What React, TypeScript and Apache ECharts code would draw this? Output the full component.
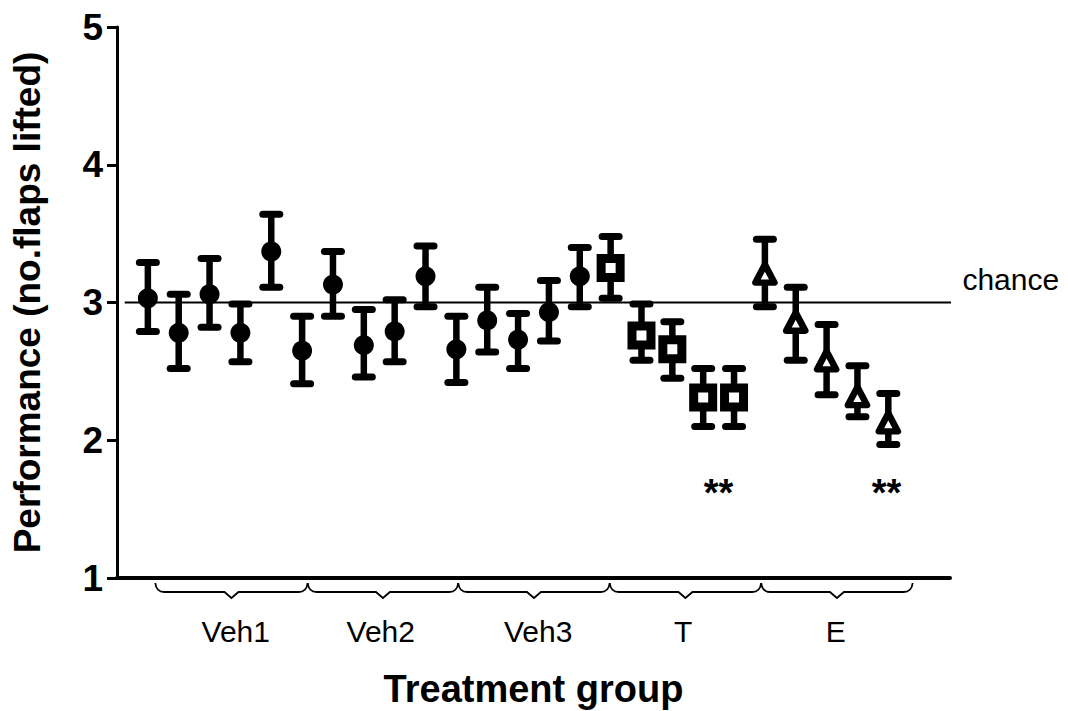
import React, { useEffect, useRef } from 'react';
import * as echarts from 'echarts';

// ---- data ----
const yTicks = [1, 2, 3, 4, 5];
const chanceLevel = 3;

const circleX = [1, 2, 3, 4, 5, 6, 7, 8, 9, 10, 11, 12, 13, 14, 15];
const circleMean = [3.03, 2.78, 3.06, 2.78, 3.37, 2.65, 3.13, 2.69, 2.79, 3.19, 2.66, 2.87, 2.73, 2.93, 3.19];
const circleHigh = [3.29, 3.06, 3.32, 2.99, 3.64, 2.90, 3.37, 2.95, 3.02, 3.41, 2.90, 3.11, 2.92, 3.16, 3.40];
const circleLow = [2.79, 2.52, 2.82, 2.57, 3.11, 2.41, 2.90, 2.46, 2.57, 2.97, 2.42, 2.64, 2.52, 2.72, 2.97];

const squareX = [16, 17, 18, 19, 20];
const squareMean = [3.25, 2.76, 2.66, 2.31, 2.31];
const squareHigh = [3.48, 2.99, 2.86, 2.52, 2.52];
const squareLow = [3.03, 2.58, 2.45, 2.10, 2.10];

const triX = [21, 22, 23, 24, 25];
const triMean = [3.21, 2.86, 2.58, 2.32, 2.13];
const triHigh = [3.46, 3.11, 2.84, 2.54, 2.34];
const triLow = [2.97, 2.58, 2.33, 2.17, 1.97];

const groupLabels = ['Veh1', 'Veh2', 'Veh3', 'T', 'E'];
const groupLabelX = [3.85, 8.55, 13.65, 18.35, 23.3];
const groupLabelY = 0.61;
const braceBounds = [1.24, 6.18, 11.06, 15.97, 20.88, 25.79];

const sigX = [19.5, 24.94];
const sigY = [1.62, 1.62];

const chanceLabelPos = [28.97, 3.17];
const chanceLineX = [0.25, 28.3];

const FONT = 'Liberation Sans, Arial, Helvetica, sans-serif';

function errData(xs: number[], lo: number[], hi: number[]) {
  return xs.map((x, i) => [x, lo[i], hi[i]]);
}

const errorRender = (params: any, api: any) => {
  const x = api.value(0);
  const lo = api.value(1);
  const hi = api.value(2);
  const pLo = api.coord([x, lo]);
  const pHi = api.coord([x, hi]);
  const hw = 8.5;
  const st = { stroke: '#000', lineWidth: 7, lineCap: 'round' };
  return {
    type: 'group',
    children: [
      { type: 'line', shape: { x1: pLo[0], y1: pLo[1], x2: pHi[0], y2: pHi[1] }, style: { stroke: '#000', lineWidth: 6.5 } },
      { type: 'line', shape: { x1: pHi[0] - hw, y1: pHi[1], x2: pHi[0] + hw, y2: pHi[1] }, style: st },
      { type: 'line', shape: { x1: pLo[0] - hw, y1: pLo[1], x2: pLo[0] + hw, y2: pLo[1] }, style: st },
    ],
  };
};

const braceRender = (params: any, api: any) => {
  const s = api.value(0);
  const e = api.value(1);
  const a = api.coord([s, 1]);
  const b = api.coord([e, 1]);
  const y0 = a[1] + 14;
  const yTop = a[1] + 5;
  const yDip = a[1] + 20;
  const xc = (a[0] + b[0]) / 2;
  const d =
    `M${a[0]},${yTop} Q${a[0] + 1},${y0} ${a[0] + 9},${y0} ` +
    `L${xc - 7},${y0} L${xc},${yDip} L${xc + 7},${y0} ` +
    `L${b[0] - 9},${y0} Q${b[0] - 1},${y0} ${b[0]},${yTop}`;
  return {
    type: 'path',
    shape: { pathData: d },
    style: { stroke: '#000', lineWidth: 1.8, fill: 'none' },
  };
};

export default function App() {
  const ref = useRef<HTMLDivElement>(null);
  useEffect(() => {
    const chart = echarts.init(ref.current!, null, { renderer: 'svg' });
    const braceData = groupLabels.map((_, i) => [braceBounds[i], braceBounds[i + 1]]);
    const option: any = {
      animation: false,
      backgroundColor: '#fff',
      textStyle: { fontFamily: FONT },
      grid: { left: 117, right: 118, top: 27, bottom: 133, containLabel: false, outerBoundsMode: 'none' },
      xAxis: {
        type: 'value',
        min: 0,
        max: 27,
        name: 'Treatment group',
        nameLocation: 'middle',
        nameGap: 92,
        nameTextStyle: { fontFamily: FONT, fontSize: 38, fontWeight: 'bold', color: '#000' },
        axisLine: { lineStyle: { color: '#000', width: 4 } },
        axisTick: { show: false },
        axisLabel: { show: false },
        splitLine: { show: false },
      },
      yAxis: {
        type: 'value',
        min: yTicks[0],
        max: yTicks[yTicks.length - 1],
        interval: 1,
        name: 'Performance (no.flaps lifted)',
        nameLocation: 'middle',
        nameRotate: 90,
        nameGap: 71,
        nameTextStyle: { fontFamily: FONT, fontSize: 37, fontWeight: 'bold', color: '#000' },
        axisLine: { lineStyle: { color: '#000', width: 3 } },
        axisTick: { show: true, length: 10, lineStyle: { color: '#000', width: 3 } },
        axisLabel: { fontFamily: FONT, fontSize: 37, fontWeight: 'bold', color: '#000', margin: 14 },
        splitLine: { show: false },
      },
      series: [
        {
          type: 'line',
          data: chanceLineX.map((x) => [x, chanceLevel]),
          symbol: 'none',
          clip: false,
          lineStyle: { color: '#000', width: 2 },
          z: 1,
        },
        {
          type: 'custom',
          renderItem: errorRender,
          data: errData(circleX, circleLow, circleHigh)
            .concat(errData(squareX, squareLow, squareHigh))
            .concat(errData(triX, triLow, triHigh)),
          z: 2,
        },
        {
          type: 'custom',
          renderItem: braceRender,
          data: braceData,
          clip: false,
          z: 2,
        },
        {
          type: 'scatter',
          data: circleX.map((x, i) => [x, circleMean[i]]),
          symbol: 'circle',
          symbolSize: 20,
          itemStyle: { color: '#000', opacity: 1 },
          z: 3,
        },
        {
          type: 'scatter',
          data: squareX.map((x, i) => [x, squareMean[i]]),
          symbol: 'rect',
          symbolSize: 19,
          itemStyle: { color: '#fff', borderColor: '#000', borderWidth: 9, opacity: 1 },
          z: 3,
        },
        {
          type: 'scatter',
          data: triX.map((x, i) => [x, triMean[i]]),
          symbol: 'triangle',
          symbolSize: [19, 18],
          itemStyle: { color: '#fff', borderColor: '#000', borderWidth: 6.5, borderJoin: 'round', opacity: 1 },
          z: 3,
        },
        {
          type: 'scatter',
          data: sigX.map((x, i) => [x, sigY[i]]),
          symbolSize: 0,
          clip: false,
          itemStyle: { opacity: 1 },
          label: { show: true, position: 'inside', formatter: '**', fontFamily: FONT, fontSize: 38, fontWeight: 'bold', color: '#000', opacity: 1 },
          z: 4,
        },
        {
          type: 'scatter',
          data: groupLabels.map((g, i) => ({ value: [groupLabelX[i], groupLabelY], name: g })),
          symbolSize: 0,
          clip: false,
          itemStyle: { opacity: 1 },
          label: { show: true, position: 'inside', formatter: (p: any) => p.name, fontFamily: FONT, fontSize: 30, color: '#000', opacity: 1 },
          z: 4,
        },
        {
          type: 'scatter',
          data: [chanceLabelPos],
          symbolSize: 0,
          clip: false,
          itemStyle: { opacity: 1 },
          label: { show: true, position: 'inside', formatter: 'chance', fontFamily: FONT, fontSize: 30, color: '#000', opacity: 1 },
          z: 4,
        },
      ],
    };
    chart.setOption(option);
    return () => chart.dispose();
  }, []);
  return <div ref={ref} style={{ position: 'fixed', left: 0, top: 0, width: 1068, height: 711 }} />;
}
